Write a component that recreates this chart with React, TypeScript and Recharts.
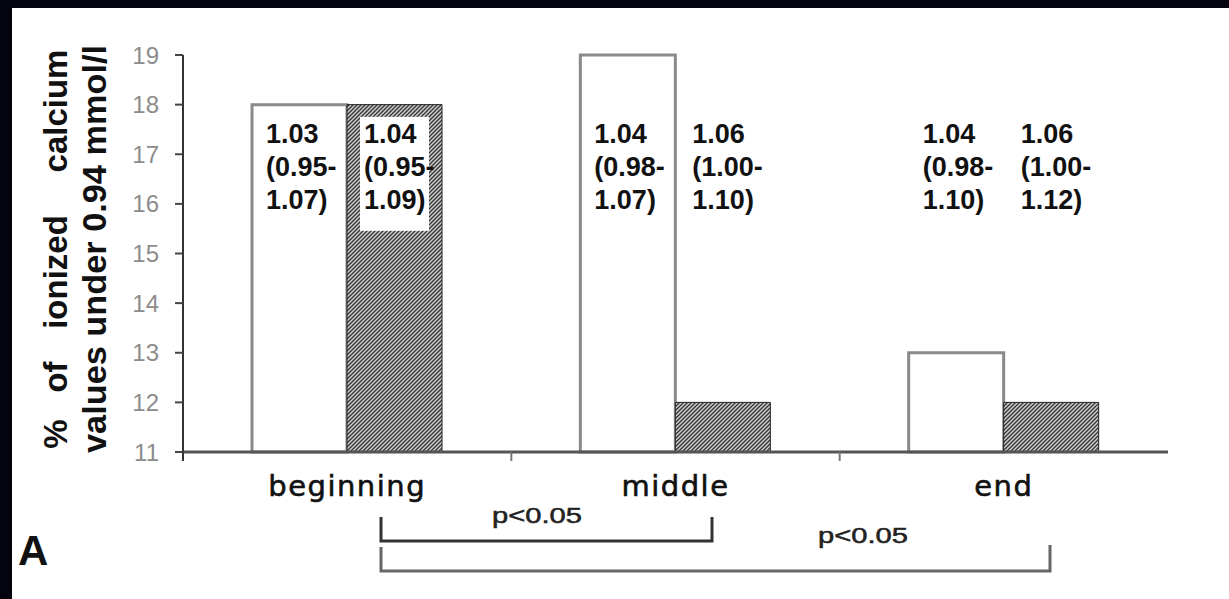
import { BarChart, Bar, XAxis, YAxis, LabelList } from "recharts";

const categories = ["beginning", "middle", "end"];
const plainValues = [18, 19, 13];
const hatchedValues = [18, 12, 12];
const plainLabels = [
  ["1.03", "(0.95-", "1.07)"],
  ["1.04", "(0.98-", "1.07)"],
  ["1.04", "(0.98-", "1.10)"],
];
const hatchedLabels = [
  ["1.04", "(0.95-", "1.09)"],
  ["1.06", "(1.00-", "1.10)"],
  ["1.06", "(1.00-", "1.12)"],
];
const yTicks = [11, 12, 13, 14, 15, 16, 17, 18, 19];

const Y_MIN = 11;
const Y_MAX = 19;
const LABEL_LEVEL = 17.23; // first text line sits at this value on the y scale

const data = categories.map((name, i) => ({
  name,
  plain: plainValues[i],
  hatched: hatchedValues[i],
}));

// three-line median (range) text, pinned to LABEL_LEVEL through the bar's own scale
const makeLabel = (lines: string[][], dx: number, boxed: boolean) => (props: any) => {
  const vb = props.viewBox || {};
  const x = props.x ?? vb.x;
  const y = props.y ?? vb.y;
  const width = props.width ?? vb.width;
  const height = props.height ?? vb.height;
  const index = props.index;
  const value = props.value;
  if (index == null || !lines[index]) return null;
  const base = y + height;
  const ppu = height / (value - Y_MIN);
  const top = base - (LABEL_LEVEL - Y_MIN) * ppu;
  const tx = x + dx;
  return (
    <g>
      {boxed && index === 0 && (
        <rect x={tx - 4} y={top - 26} width={width - dx - 9} height={114} fill="#fff" />
      )}
      {lines[index].map((t, k) => (
        <text
          key={k}
          x={tx}
          y={top + k * 33}
          fontFamily="Liberation Sans, Arial, sans-serif"
          fontWeight="bold"
          fontSize={27}
          fill="#111"
        >
          {t}
        </text>
      ))}
    </g>
  );
};

const CategoryTick = (props: any) => {
  const { x, y, payload, index } = props;
  const half = payload && payload.offset ? payload.offset : 164;
  return (
    <g>
      <text
        x={x}
        y={y + 44}
        textAnchor="middle"
        fontFamily="DejaVu Sans, sans-serif"
        fontSize={29}
        letterSpacing={1.5}
        fill="#111"
        stroke="#111"
        strokeWidth={0.6}
      >
        {payload.value}
      </text>
      {index < categories.length - 1 && (
        <line x1={x + half} x2={x + half} y1={y} y2={y + 9} stroke="#777" strokeWidth={2} />
      )}
      {index === 0 && (
        <line x1={x - half} x2={x - half} y1={y} y2={y + 9} stroke="#333" strokeWidth={2} />
      )}
    </g>
  );
};

const titleFont = "Liberation Sans, Arial, sans-serif";

export default function App() {
  return (
    <div
      style={{
        position: "fixed",
        left: 0,
        top: 0,
        width: 1229,
        height: 599,
        background: "#04040f",
        overflow: "hidden",
      }}
    >
      <div
        style={{ position: "absolute", left: 12, top: 8, width: 1217, height: 591, background: "#fff" }}
      />
      <svg width={0} height={0} style={{ position: "absolute" }}>
        <defs>
          <pattern id="hatch" patternUnits="userSpaceOnUse" width={4} height={4}>
            <rect width={4} height={4} fill="#383838" />
            <path d="M-1,1 l2,-2 M0,4 l4,-4 M3,5 l2,-2" stroke="#d2d2d2" strokeWidth={1.4} />
          </pattern>
        </defs>
      </svg>
      <div style={{ position: "absolute", left: 0, top: 0 }}>
        <BarChart
          width={1229}
          height={599}
          data={data}
          margin={{ top: 55, right: 61, left: 103, bottom: 87 }}
          barCategoryGap={69}
          barGap={0}
        >
          <XAxis
            dataKey="name"
            height={60}
            axisLine={{ stroke: "#555", strokeWidth: 3 }}
            tickLine={false}
            tickSize={0}
            tickMargin={0}
            tick={<CategoryTick />}
            interval={0}
          />
          <YAxis
            width={80}
            domain={[Y_MIN, Y_MAX]}
            ticks={yTicks}
            interval={0}
            axisLine={{ stroke: "#333", strokeWidth: 2 }}
            tickLine={{ stroke: "#444", strokeWidth: 2 }}
            tickSize={8}
            tickMargin={16}
            tick={{ fill: "#8c8c8c", fontSize: 24, fontFamily: "Liberation Sans, Arial, sans-serif" }}
          />
          <Bar dataKey="plain" fill="#fff" stroke="#8a8a8a" strokeWidth={3} isAnimationActive={false}>
            <LabelList dataKey="plain" content={makeLabel(plainLabels, 14, false)} />
          </Bar>
          <Bar dataKey="hatched" fill="url(#hatch)" stroke="#222" strokeWidth={1} isAnimationActive={false}>
            <LabelList dataKey="hatched" content={makeLabel(hatchedLabels, 17, true)} />
          </Bar>
        </BarChart>
      </div>
      <svg
        width={1229}
        height={599}
        style={{ position: "absolute", left: 0, top: 0, pointerEvents: "none" }}
      >
        {/* y-axis title, first line spread out word by word */}
        <g fontFamily={titleFont} fontWeight="bold" fontSize={33} fill="#111" textAnchor="middle">
          <text transform="translate(67,434) rotate(-90)">%</text>
          <text transform="translate(67,377) rotate(-90)">of</text>
          <text transform="translate(67,272) rotate(-90)">ionized</text>
          <text transform="translate(67,111) rotate(-90)">calcium</text>
          <text
            transform="translate(106,249) rotate(-90)"
            textLength={408}
            lengthAdjust="spacingAndGlyphs"
          >
            values under 0.94 mmol/l
          </text>
        </g>

        {/* significance brackets */}
        <path d="M381,517 V541 H712 V517" fill="none" stroke="#333" strokeWidth={3} />
        <path d="M381,547 V571 H1050 V545" fill="none" stroke="#666" strokeWidth={3} />
        <g fontFamily={titleFont} fontSize={22} fill="#222" stroke="#222" strokeWidth={0.5}>
          <text x={492} y={523} textLength={90} lengthAdjust="spacingAndGlyphs">
            p&lt;0.05
          </text>
          <text x={818} y={543} textLength={90} lengthAdjust="spacingAndGlyphs">
            p&lt;0.05
          </text>
        </g>

        <text x={18} y={565} fontFamily={titleFont} fontWeight="bold" fontSize={42} fill="#111">
          A
        </text>
      </svg>
    </div>
  );
}
